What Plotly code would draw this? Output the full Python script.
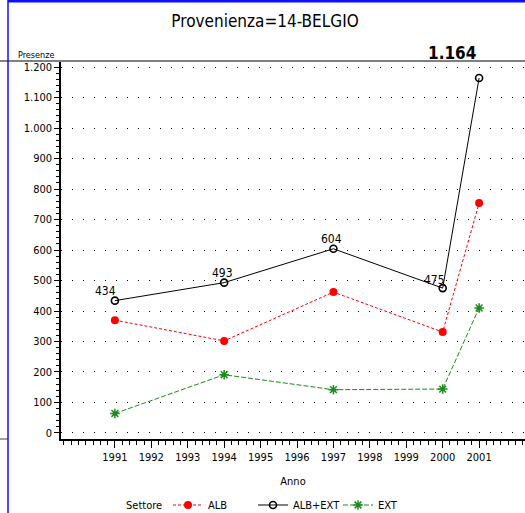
import plotly.graph_objects as go

years = [1991, 1994, 1997, 2000, 2001]
alb = [370, 302, 462, 331, 754]
alb_ext = [434, 493, 604, 475, 1164]
ext = [64, 191, 142, 144, 410]
tick_years = list(range(1991, 2002))

FONT = "DejaVu Sans Condensed, Liberation Sans Narrow, sans-serif"
W, H = 525, 513
L, R, T, B = 61, 0, 61, 74
PW = W - L - R
PH = H - T - B

fig = go.Figure()
fig.add_trace(go.Scatter(x=years, y=alb, name="ALB", mode="lines+markers",
                         line=dict(color="#ff0000", width=1, dash="3px,2px"),
                         marker=dict(symbol="circle", size=8, color="#ff0000")))
fig.add_trace(go.Scatter(x=years, y=alb_ext, name="ALB+EXT", mode="lines+markers",
                         line=dict(color="black", width=1),
                         marker=dict(symbol="circle-open", size=7, color="black", line=dict(width=1.6))))
fig.add_trace(go.Scatter(x=years, y=ext, name="EXT", mode="lines+markers",
                         line=dict(color="#1a8a1a", width=1, dash="5px,2px"),
                         marker=dict(symbol="asterisk-open", size=8, color="#1a8a1a",
                                     line=dict(width=1.5, color="#1a8a1a"))))

def fmt(v):
    return f"{v:,}".replace(",", ".")

shifts = [(-9, 10), (-2, 10), (-2, 10), (-8, 8)]
for (yr, v), (dx, dy) in zip(list(zip(years, alb_ext))[:4], shifts):
    fig.add_annotation(x=yr, y=v, text=fmt(v), showarrow=False, xshift=dx, yshift=dy,
                       font=dict(family=FONT, size=12, color="black"))
fig.add_annotation(x=years[-1], y=alb_ext[-1], text="<b>" + fmt(alb_ext[-1]) + "</b>", showarrow=False,
                   xshift=-27, yshift=25, font=dict(family=FONT, size=17, color="black"))

fig.add_annotation(xref="paper", yref="paper", x=-5/PW, y=1.0, yshift=-1, text="Presenze",
                   showarrow=False, xanchor="right", yanchor="bottom",
                   font=dict(family=FONT, size=9, color="black"))

fig.add_annotation(xref="paper", yref="paper", x=(124 - L)/PW, y=-(505 - (T + PH))/PH, text="Settore",
                   showarrow=False, xanchor="left", yanchor="middle",
                   font=dict(family=FONT, size=11, color="black"))

# decorative page lines
shapes = [
    dict(type="line", xref="paper", yref="paper", x0=-L/PW, x1=1, y0=1, y1=1,
         line=dict(color="#808080", width=2)),
    dict(type="line", xref="paper", yref="paper", x0=-L/PW, x1=-(L-8)/PW, y0=0, y1=0,
         line=dict(color="#808080", width=1.5)),
    dict(type="line", xref="paper", yref="paper", x0=-(L-8)/PW, x1=-(L-8)/PW,
         y0=-B/PH, y1=1 + T/PH, line=dict(color="#1010ff", width=1.5)),
    dict(type="line", xref="paper", yref="paper", x0=-(L-8)/PW, x1=1, y0=1 + (T-1)/PH,
         y1=1 + (T-1)/PH, line=dict(color="#1010ff", width=3)),
]
fig.update_layout(shapes=shapes)

fig.update_layout(
    width=W, height=H,
    margin=dict(l=L, r=R, t=T, b=B),
    paper_bgcolor="white", plot_bgcolor="white",
    separators=",.",
    font=dict(family=FONT, size=11, color="black"),
    title=dict(text="Provenienza=14-BELGIO", x=265/W, xref="container", xanchor="center",
               y=1 - 21/H, yanchor="middle", font=dict(family=FONT, size=17, color="black")),
    showlegend=True,
    legend=dict(orientation="h", x=(173 - 5)/W, xanchor="left", xref="container", y=8/H, yanchor="middle",
                yref="container", entrywidth=40, entrywidthmode="pixels",
                font=dict(family=FONT, size=11), itemwidth=30, bgcolor="rgba(0,0,0,0)"),
)

fig.update_xaxes(range=[1989.52, 2002.26], tickmode="array", tickvals=tick_years,
                 ticktext=[str(t) for t in tick_years],
                 ticks="outside", ticklen=7, tickcolor="black", tickwidth=1,
                 minor=dict(dtick=0.2, tick0=1991, ticks="outside", ticklen=4, tickcolor="black", showgrid=False),
                 showline=True, linecolor="black", linewidth=1.5, showgrid=False, zeroline=False,
                 title=dict(text="Anno", font=dict(family=FONT, size=11), standoff=14),
                 tickfont=dict(family=FONT, size=11))
fig.update_yaxes(range=[-19.7, 1219.7], tickmode="linear", tick0=0, dtick=100,
                 ticks="outside", ticklen=5, tickcolor="black", tickwidth=1,
                 minor=dict(dtick=20, ticks="outside", ticklen=3, tickcolor="black", showgrid=False),
                 showline=True, linecolor="black", linewidth=1.5,
                 showgrid=True, gridcolor="black", gridwidth=1, griddash="1px,10px",
                 zeroline=False, tickformat=",d", tickfont=dict(family=FONT, size=11))

fig.write_html("out.html", config={"displayModeBar": False},
               post_script="document.body.style.margin='0px';document.body.style.overflow='hidden';")
